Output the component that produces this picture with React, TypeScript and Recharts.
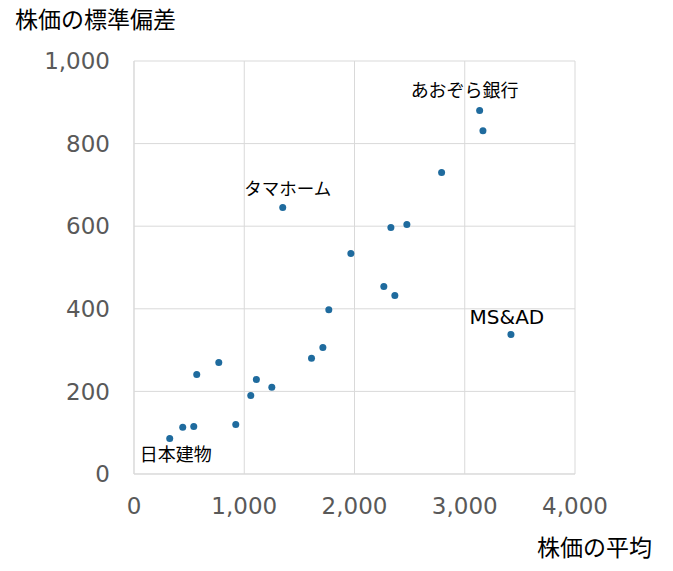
import React from "react";
import { ScatterChart, Scatter, XAxis, YAxis, CartesianGrid, LabelList } from "recharts";

const meanPrice = [3135, 3165, 2790, 1349, 2330, 2475, 1967, 2266, 2366, 1767, 3419, 1713, 1610, 769, 569, 1110, 1250, 1059, 923, 542, 442, 324];
const stdDev = [880, 831, 730, 645, 597, 604, 534, 454, 432, 398, 338, 306, 280, 270, 241, 229, 210, 190, 120, 115, 113, 86];
const names = ["あおぞら銀行", "", "", "タマホーム", "", "", "", "", "", "", "MS&AD", "", "", "", "", "", "", "", "", "", "", "日本建物"];

const xTicks = [0, 1000, 2000, 3000, 4000];
const yTicks = [0, 200, 400, 600, 800, 1000];

const data = meanPrice.map((x, i) => ({ x, y: stdDev[i], name: names[i] }));

const labelStyles: Record<string, { dx: number; dy: number; size: number }> = {
  "あおぞら銀行": { dx: -15, dy: -20, size: 18 },
  "タマホーム": { dx: 5, dy: -19, size: 17.5 },
  "MS&AD": { dx: -4, dy: -17, size: 20 },
  "日本建物": { dx: 6, dy: 16, size: 18 },
};

const fmt = (v: number) => v.toLocaleString("en-US");

const FONT = "'DejaVu Sans', 'Noto Sans CJK JP', sans-serif";

const renderLabel = (props: any) => {
  const { x, y, value, width, height } = props;
  if (!value) return null;
  const st = labelStyles[value] || { dx: 0, dy: 0, size: 18 };
  const cx = x + (width || 0) / 2;
  const cy = y + (height || 0) / 2;
  return (
    <text
      x={cx + st.dx}
      y={cy + st.dy}
      textAnchor="middle"
      dominantBaseline="central"
      fontSize={st.size}
      fontFamily={FONT}
      fill="#000"
    >
      {value}
    </text>
  );
};

export default function App() {
  return (
    <div style={{ position: "absolute", left: 0, top: 0, width: 673, height: 571, background: "#fff" }}>
      <ScatterChart width={673} height={571} margin={{ top: 61, right: 98, bottom: 47, left: 24 }}>
        <CartesianGrid stroke="#d9d9d9" strokeWidth={1} />
        <XAxis
          type="number"
          dataKey="x"
          domain={[0, 4000]}
          ticks={xTicks}
          tickFormatter={fmt}
          axisLine={{ stroke: "#d9d9d9" }}
          tickLine={false}
          tickSize={0}
          tickMargin={24}
          height={50}
          tick={{ fill: "#595959", fontSize: 23, fontFamily: FONT }}
        />
        <YAxis
          type="number"
          dataKey="y"
          domain={[0, 1000]}
          ticks={yTicks}
          tickFormatter={fmt}
          axisLine={{ stroke: "#d9d9d9" }}
          tickLine={false}
          tickSize={0}
          tickMargin={24}
          width={110}
          tick={{ fill: "#595959", fontSize: 23, fontFamily: FONT }}
        />
        <Scatter data={data} fill="#1f6b9e" isAnimationActive={false} shape={(p: any) => <circle cx={p.cx} cy={p.cy} r={3.5} fill="#1f6b9e" />}>
          <LabelList dataKey="name" content={renderLabel} />
        </Scatter>
        <text x={15} y={20} dominantBaseline="central" fontSize={23} fontFamily={FONT} fill="#000">株価の標準偏差</text>
        <text x={537} y={548} dominantBaseline="central" fontSize={23} fontFamily={FONT} fill="#000">株価の平均</text>
      </ScatterChart>
    </div>
  );
}
